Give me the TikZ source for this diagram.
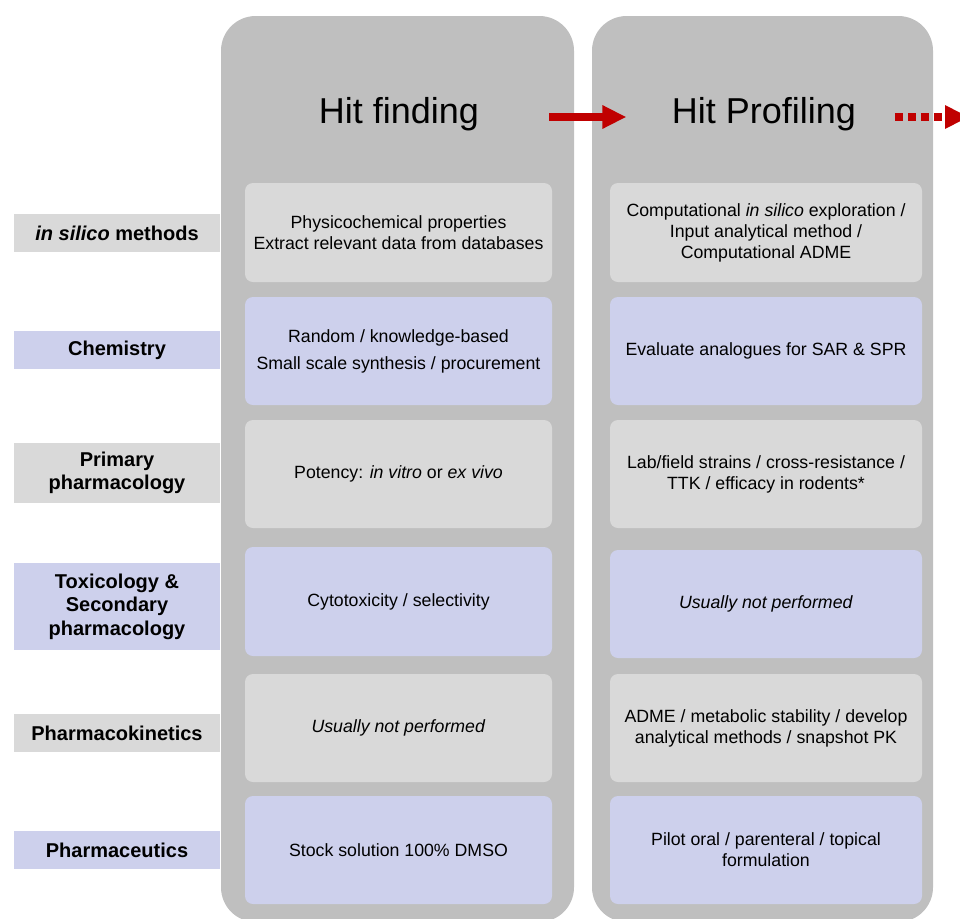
\documentclass[tikz,border=0pt]{standalone}
\usepackage{fontspec}
\setmainfont{Liberation Sans}
\usetikzlibrary{arrows.meta}

\definecolor{colgrey}{RGB}{191,191,191}
\definecolor{cellgrey}{RGB}{217,217,217}
\definecolor{cellblue}{RGB}{205,208,236}
\definecolor{flowred}{RGB}{192,0,0}

\newcommand{\cellfont}{\fontsize{13.3}{15.8}\selectfont}
\newcommand{\tagfont}{\fontsize{15}{17.6}\selectfont\bfseries}
\newcommand{\headfont}{\fontsize{27}{30}\selectfont}

\begin{document}
\begin{tikzpicture}[x=.75pt,y=-.75pt,
    column/.style={fill=colgrey,rounded corners=26pt},
    cell/.style={rounded corners=6pt,align=center,font=\cellfont,inner sep=0pt},
    lcell/.style={cell,minimum width=230.25pt},
    rcell/.style={cell,minimum width=234pt},
    tag/.style={align=center,font=\tagfont,inner sep=0pt,minimum width=154.5pt},
    head/.style={font=\headfont,inner sep=0pt,anchor=base},
    flow/.style={draw=flowred,line width=6pt,-{Triangle[length=18pt,width=16.5pt]}}]
    \useasboundingbox (0,0) rectangle (960,918);

    % columns
    \fill[column] (221,16) rectangle (574,922);
    \fill[column] (592,16) rectangle (933,922);

    % headings
    \node[head] (hf) at (399,123) {Hit finding};
    \node[head] (hp) at (764,123) {Hit Profiling};
    \coordinate (next) at (969,117);
    \draw[flow,shorten <=52.5pt,shorten >=34pt] ([yshift=4.5pt]hf.base east) -- ([yshift=4.5pt]hp.base west);
    \draw[flow,dash pattern=on 6pt off 3.75pt,shorten <=29pt] ([yshift=4.5pt]hp.base east) -- (next);

    % row labels
    \node[tag,fill=cellgrey,minimum height=28.5pt] (t1) at (117,233) {\textit{in silico} methods};
    \node[tag,fill=cellblue,minimum height=28.5pt] (t2) at (117,350) {Chemistry};
    \node[tag,fill=cellgrey,minimum height=45pt] (t3) at (117,473) {Primary\\pharmacology};
    \node[tag,fill=cellblue,minimum height=65.25pt] (t4) at (117,606.5) {Toxicology \&\\Secondary\\pharmacology};
    \node[tag,fill=cellgrey,minimum height=28.5pt] (t5) at (117,733) {Pharmacokinetics};
    \node[tag,fill=cellblue,minimum height=28.5pt] (t6) at (117,850) {Pharmaceutics};

    % hit finding
    \node[lcell,fill=cellgrey,minimum height=74.25pt] (hf1) at (398.5,232.5) {Physicochemical properties\\Extract relevant data from databases};
    \node[lcell,fill=cellblue,minimum height=81pt] (hf2) at (398.5,351) {Random / knowledge-based\\[4.5pt]Small scale synthesis / procurement};
    \node[lcell,fill=cellgrey,minimum height=81pt] (hf3) at (398.5,474) {Potency: \textit{in vitro} or \textit{ex vivo}};
    \node[lcell,fill=cellblue,minimum height=81.75pt] (hf4) at (398.5,601.5) {Cytotoxicity / selectivity};
    \node[lcell,fill=cellgrey,minimum height=81pt] (hf5) at (398.5,728) {\textit{Usually not performed}};
    \node[lcell,fill=cellblue,minimum height=81pt] (hf6) at (398.5,850) {Stock solution 100\% DMSO};

    % hit profiling
    \node[rcell,fill=cellgrey,minimum height=74.25pt] (hp1) at (766,232.5) {Computational \textit{in silico} exploration /\\Input analytical method /\\Computational ADME};
    \node[rcell,fill=cellblue,minimum height=81pt] (hp2) at (766,351) {Evaluate analogues for SAR \& SPR};
    \node[rcell,fill=cellgrey,minimum height=81pt] (hp3) at (766,474) {Lab/field strains / cross-resistance /\\TTK / efficacy in rodents*};
    \node[rcell,fill=cellblue,minimum height=81pt] (hp4) at (766,604) {\textit{Usually not performed}};
    \node[rcell,fill=cellgrey,minimum height=81pt] (hp5) at (766,728) {ADME / metabolic stability / develop\\analytical methods / snapshot PK};
    \node[rcell,fill=cellblue,minimum height=81pt] (hp6) at (766,850) {Pilot oral / parenteral / topical\\formulation};
\end{tikzpicture}
\end{document}
